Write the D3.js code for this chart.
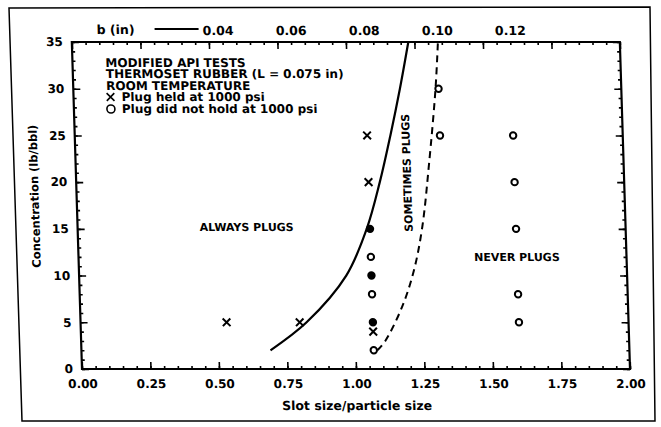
<!DOCTYPE html>
<html>
<head>
<meta charset="utf-8">
<script src="https://cdn.jsdelivr.net/npm/d3@7"></script>
<style>
  body { margin: 0; background: #fff; }
  text { font-family: "DejaVu Sans", sans-serif; font-weight: bold; fill: #000; }
</style>
</head>
<body>
<div id="chart"></div>
<script>
// ---- data ----
var xTicks = [0, 0.25, 0.5, 0.75, 1.0, 1.25, 1.5, 1.75, 2.0];
var yTicks = [0, 5, 10, 15, 20, 25, 30, 35];
var bTicks = [0.04, 0.06, 0.08, 0.10, 0.12]; // b (in), top axis
var L = 0.075; // particle size, in

// plug held at 1000 psi (x)
var heldX = [0.533, 0.8, 1.067, 1.067, 1.067];
var heldY = [5, 5, 25, 20, 4];
// plug did not hold (o)
var openX = [1.067, 1.067, 1.067, 1.333, 1.333, 1.6, 1.6, 1.6, 1.6, 1.6];
var openY = [12, 8, 2, 30, 25, 25, 20, 15, 8, 5];
// filled dots
var filledX = [1.067, 1.067, 1.067];
var filledY = [15, 10, 5];

// "always plugs" boundary (solid)
var alwaysX = [0.69, 0.825, 0.975, 1.055, 1.108, 1.152, 1.192, 1.228];
var alwaysY = [2, 5, 10, 15, 20, 25, 30, 35];
// "never plugs" boundary (dashed)
var neverX = [1.08, 1.11, 1.176, 1.223, 1.258, 1.29, 1.322, 1.336];
var neverY = [2, 3, 6.7, 10.6, 15.2, 22, 30, 35];

var legendLines = ["MODIFIED API TESTS", "THERMOSET RUBBER (L = 0.075 in)", "ROOM TEMPERATURE"];

var width = 661, height = 427;

var svg = d3.select("#chart").append("svg")
  .attr("width", width)
  .attr("height", height);

// outer frame of the scanned figure (a bit crooked)
svg.append("path")
  .attr("d", "M9,8 L650,7 L655,421 L22,421 Z")
  .attr("fill", "none")
  .attr("stroke", "#000")
  .attr("stroke-width", 1.5);

// the scan is slightly sheared, so everything sits in a skewed group
var g = svg.append("g")
  .attr("transform", "translate(0,369) skewX(1.78) translate(0,-369)");

var x = d3.scaleLinear().domain([0, 2]).range([82, 630]);
var y = d3.scaleLinear().domain([0, 35]).range([369, 42]);
var xb = d3.scaleLinear().domain([0, 2 * L]).range(x.range());

var xMinor = d3.range(0, 2.0001, 0.05);
var yMinor = d3.range(0, 35.001, 1);

function styleAxis(sel, size) {
  sel.select(".domain").remove();
  sel.selectAll("line").attr("stroke-width", 1.6);
  sel.selectAll("text")
    .attr("font-family", "DejaVu Sans, sans-serif")
    .attr("font-weight", "bold")
    .attr("font-size", size || 12);
}

// bottom
g.append("g").attr("transform", "translate(0," + y(0) + ")")
  .call(d3.axisBottom(x).tickValues(xMinor).tickSize(-3).tickFormat(""))
  .call(styleAxis);
g.append("g").attr("transform", "translate(0," + y(0) + ")")
  .call(d3.axisBottom(x).tickValues(xTicks).tickSize(-7).tickPadding(10).tickFormat(d3.format(".2f")))
  .call(styleAxis);

// top (same ticks, labelled in b)
g.append("g").attr("transform", "translate(0," + y(35) + ")")
  .call(d3.axisTop(x).tickValues(xMinor).tickSize(-3).tickFormat(""))
  .call(styleAxis);
g.append("g").attr("transform", "translate(0," + y(35) + ")")
  .call(d3.axisTop(x).tickValues(xTicks).tickSize(-7).tickFormat(""))
  .call(styleAxis);
g.append("g").attr("transform", "translate(0," + y(35) + ")")
  .call(d3.axisTop(xb).tickValues(bTicks).tickSize(0).tickPadding(7).tickFormat(d3.format(".2f")))
  .call(styleAxis, 12.5);

// left
g.append("g").attr("transform", "translate(" + x(0) + ",0)")
  .call(d3.axisLeft(y).tickValues(yMinor).tickSize(-3).tickFormat(""))
  .call(styleAxis);
g.append("g").attr("transform", "translate(" + x(0) + ",0)")
  .call(d3.axisLeft(y).tickValues(yTicks).tickSize(-7).tickPadding(9))
  .call(styleAxis);

// right
g.append("g").attr("transform", "translate(" + x(2) + ",0)")
  .call(d3.axisRight(y).tickValues(yMinor).tickSize(-3).tickFormat(""))
  .call(styleAxis);
g.append("g").attr("transform", "translate(" + x(2) + ",0)")
  .call(d3.axisRight(y).tickValues(yTicks).tickSize(-7).tickFormat(""))
  .call(styleAxis);

// plot frame
g.append("rect")
  .attr("x", x(0)).attr("y", y(35))
  .attr("width", x(2) - x(0)).attr("height", y(0) - y(35))
  .attr("fill", "none").attr("stroke", "#000").attr("stroke-width", 2.2);

// b (in) label with its leader line
g.append("text")
  .attr("x", xb(0.04) - 83).attr("y", y(35) - 8)
  .attr("text-anchor", "end").attr("font-size", 12.5)
  .text("b (in)");
g.append("line")
  .attr("x1", xb(0.04) - 63).attr("x2", xb(0.04) - 19)
  .attr("y1", y(35) - 13).attr("y2", y(35) - 13)
  .attr("stroke", "#000").attr("stroke-width", 2);

// axis titles
g.append("text")
  .attr("x", (x(0) + x(2)) / 2).attr("y", 410)
  .attr("text-anchor", "middle").attr("font-size", 12.5)
  .text("Slot size/particle size");
g.append("text")
  .attr("transform", "translate(44," + y(18.5) + ") rotate(-90)")
  .attr("text-anchor", "middle").attr("font-size", 11.5)
  .text("Concentration (lb/bbl)");

// boundary curves
var line = d3.line()
  .x(function(d) { return x(d[0]); })
  .y(function(d) { return y(d[1]); })
  .curve(d3.curveCatmullRom);

g.append("path")
  .datum(d3.zip(alwaysX, alwaysY))
  .attr("d", line)
  .attr("fill", "none").attr("stroke", "#000").attr("stroke-width", 2.2);

g.append("path")
  .datum(d3.zip(neverX, neverY))
  .attr("d", line)
  .attr("fill", "none").attr("stroke", "#000").attr("stroke-width", 2)
  .attr("stroke-dasharray", "7,5");

// points
var cross = d3.symbol().type(d3.symbolTimes).size(40);

g.selectAll(".held")
  .data(d3.zip(heldX, heldY))
  .enter().append("path")
  .attr("class", "held")
  .attr("d", cross)
  .attr("transform", function(d) { return "translate(" + x(d[0]) + "," + y(d[1]) + ")"; })
  .attr("fill", "none").attr("stroke", "#000").attr("stroke-width", 2);

g.selectAll(".open")
  .data(d3.zip(openX, openY))
  .enter().append("circle")
  .attr("class", "open")
  .attr("cx", function(d) { return x(d[0]); })
  .attr("cy", function(d) { return y(d[1]); })
  .attr("r", 3.2)
  .attr("fill", "#fff").attr("stroke", "#000").attr("stroke-width", 2);

g.selectAll(".filled")
  .data(d3.zip(filledX, filledY))
  .enter().append("circle")
  .attr("class", "filled")
  .attr("cx", function(d) { return x(d[0]); })
  .attr("cy", function(d) { return y(d[1]); })
  .attr("r", 4.2)
  .attr("fill", "#000");

// region labels
g.append("text")
  .attr("x", x(0.617)).attr("y", y(15.2)).attr("dy", "0.36em")
  .attr("text-anchor", "middle").attr("font-size", 11)
  .text("ALWAYS PLUGS");
g.append("text")
  .attr("x", x(1.6)).attr("y", y(12)).attr("dy", "0.36em")
  .attr("text-anchor", "middle").attr("font-size", 11)
  .text("NEVER PLUGS");
g.append("text")
  .attr("transform", "translate(" + x(1.208) + "," + y(21) + ") rotate(-90)")
  .attr("dy", "0.36em")
  .attr("text-anchor", "middle").attr("font-size", 11)
  .text("SOMETIMES PLUGS");

// legend block
var lx = x(0) + 33;
legendLines.forEach(function(t, i) {
  g.append("text")
    .attr("x", lx).attr("y", 67 + i * 11.5)
    .attr("font-size", 12)
    .text(t);
});
g.append("path")
  .attr("d", cross)
  .attr("transform", "translate(" + (lx + 4) + ",97)")
  .attr("fill", "none").attr("stroke", "#000").attr("stroke-width", 1.6);
g.append("text")
  .attr("x", lx + 15).attr("y", 101.5)
  .attr("font-size", 12)
  .text("Plug held at 1000 psi");
g.append("circle")
  .attr("cx", lx + 4).attr("cy", 109).attr("r", 4)
  .attr("fill", "none").attr("stroke", "#000").attr("stroke-width", 1.6);
g.append("text")
  .attr("x", lx + 15).attr("y", 113.5)
  .attr("font-size", 12)
  .text("Plug did not hold at 1000 psi");
</script>
</body>
</html>
